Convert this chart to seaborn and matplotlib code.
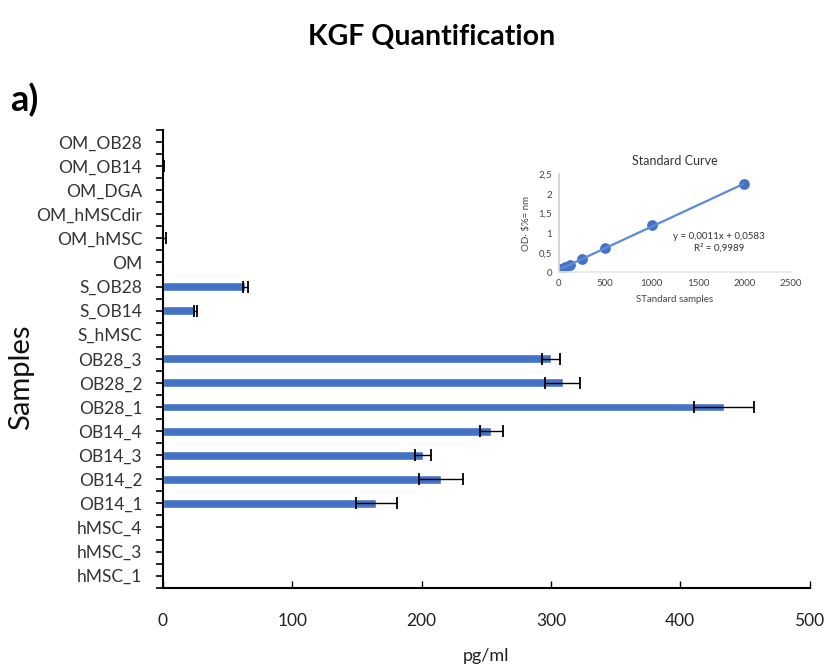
import numpy as np
import pandas as pd
import matplotlib
matplotlib.use("Agg")
import matplotlib.pyplot as plt
import seaborn as sns

# ---- data (top -> bottom as shown) ----
samples = ["OM_OB28", "OM_OB14", "OM_DGA", "OM_hMSCdir", "OM_hMSC", "OM",
           "S_OB28", "S_OB14", "S_hMSC", "OB28_3", "OB28_2", "OB28_1",
           "OB14_4", "OB14_3", "OB14_2", "OB14_1", "hMSC_4", "hMSC_3", "hMSC_1"]
kgf_values = [0, 0.5, 0, 0, 1.0, 0,
              63.5, 25, 0, 300, 309, 434,
              254, 201, 215, 165, 0, 0, 0]
kgf_errors = [0, 0.5, 0, 0, 1.0, 0,
              2, 1, 0, 7, 13.5, 23,
              9, 6, 17, 16, 0, 0, 0]

std_conc = [0, 15.6, 31.25, 62.5, 125, 250, 500, 1000, 2000]
std_od = [0.06, 0.075, 0.095, 0.13, 0.19, 0.34, 0.63, 1.2, 2.25]

x_ticks = [0, 100, 200, 300, 400, 500]
inset_xticks = [0, 500, 1000, 1500, 2000, 2500]
inset_yticks = [0, 0.5, 1, 1.5, 2, 2.5]
inset_ylabels = ["0", "0,5", "1", "1,5", "2", "2,5"]

sns.set_theme(style="white")
plt.rcParams["font.family"] = ["Lato", "DejaVu Sans"]

fig = plt.figure(figsize=(8.29, 6.70), dpi=100)
ax = fig.add_axes([0.1966, 0.1228, 0.7799, 0.6832])

df = pd.DataFrame({"sample": samples, "value": kgf_values, "err": kgf_errors})
sns.barplot(data=df, y="sample", x="value", orient="h", color="#4472C4",
            saturation=1, width=0.37, errorbar=None, ax=ax)
ypos = np.arange(len(samples))
ax.errorbar(df["value"], ypos, xerr=df["err"], fmt="none", ecolor="black",
            elinewidth=1.0, capsize=4, capthick=1.3)

ax.set_xlim(0, 500)
ax.set_ylim(len(samples) - 0.5, -0.5)
ax.set_xticks(x_ticks)
ax.set_xticklabels([str(t) for t in x_ticks], fontsize=12.5, color="#222222")
ax.set_yticks(ypos)
ax.set_yticklabels(samples, fontsize=12.5, color="#333333")
ax.set_yticks(np.arange(-0.5, len(samples), 1), minor=True)
ax.tick_params(axis="y", which="both", direction="out", length=5, width=1.2,
               color="black", left=True, pad=10)
ax.tick_params(axis="x", which="major", direction="in", length=5, width=1,
               color="black", bottom=True, pad=18)
for s in ["top", "right"]:
    ax.spines[s].set_visible(False)
for s in ["left", "bottom"]:
    ax.spines[s].set_color("black")
    ax.spines[s].set_linewidth(1.5)
ax.set_xlabel("pg/ml", fontsize=13, color="#222222", labelpad=14)
ax.set_ylabel("Samples", fontsize=21, color="#111111")
ax.yaxis.set_label_coords(-0.2, 0.46)
ax.grid(False)

fig.text(0.521, 0.945, "KGF Quantification", ha="center", va="center",
         fontsize=20.5, fontweight="bold", color="black")
fig.text(0.012, 0.85, "a)", ha="left", va="center", fontsize=26,
         fontweight="bold", color="black")

# ---- inset: standard curve ----
ins = fig.add_axes([0.674, 0.5936, 0.28, 0.146])
std_df = pd.DataFrame({"conc": std_conc, "od": std_od})
sns.regplot(data=std_df, x="conc", y="od", ci=None, ax=ins,
            scatter_kws={"s": 45, "color": "#4472C4", "alpha": 1},
            line_kws={"color": "#5B8BD6", "lw": 1.6})
ins.errorbar([std_conc[-1]], [std_od[-1]], yerr=[0.05], fmt="none",
             ecolor="#4472C4", capsize=2, lw=1)
ins.set_xlim(0, 2500)
ins.set_ylim(0, 2.5)
ins.set_xticks(inset_xticks)
ins.set_xticklabels([str(t) for t in inset_xticks], fontsize=7, color="#444444")
ins.set_yticks(inset_yticks)
ins.set_yticklabels(inset_ylabels, fontsize=7, color="#444444")
ins.tick_params(length=0, pad=5)
for s in ["top", "right"]:
    ins.spines[s].set_visible(False)
ins.spines["left"].set_color("#D0D0D0")
ins.spines["bottom"].set_color("#E8E8E8")
ins.set_xlabel("STandard samples", fontsize=7, color="#444444", labelpad=5)
ins.set_ylabel("OD· \\$%= nm", fontsize=7, color="#444444", labelpad=5)
ins.set_title("Standard Curve", fontsize=9, color="#333333", pad=7)
ins.text(0.69, 0.31, "y = 0,0011x + 0,0583\nR² = 0,9989", transform=ins.transAxes,
         ha="center", va="center", fontsize=7, color="#333333", linespacing=1.3)
ins.set_facecolor("none")
ins.grid(False)

fig.savefig("out.png", dpi=100)
